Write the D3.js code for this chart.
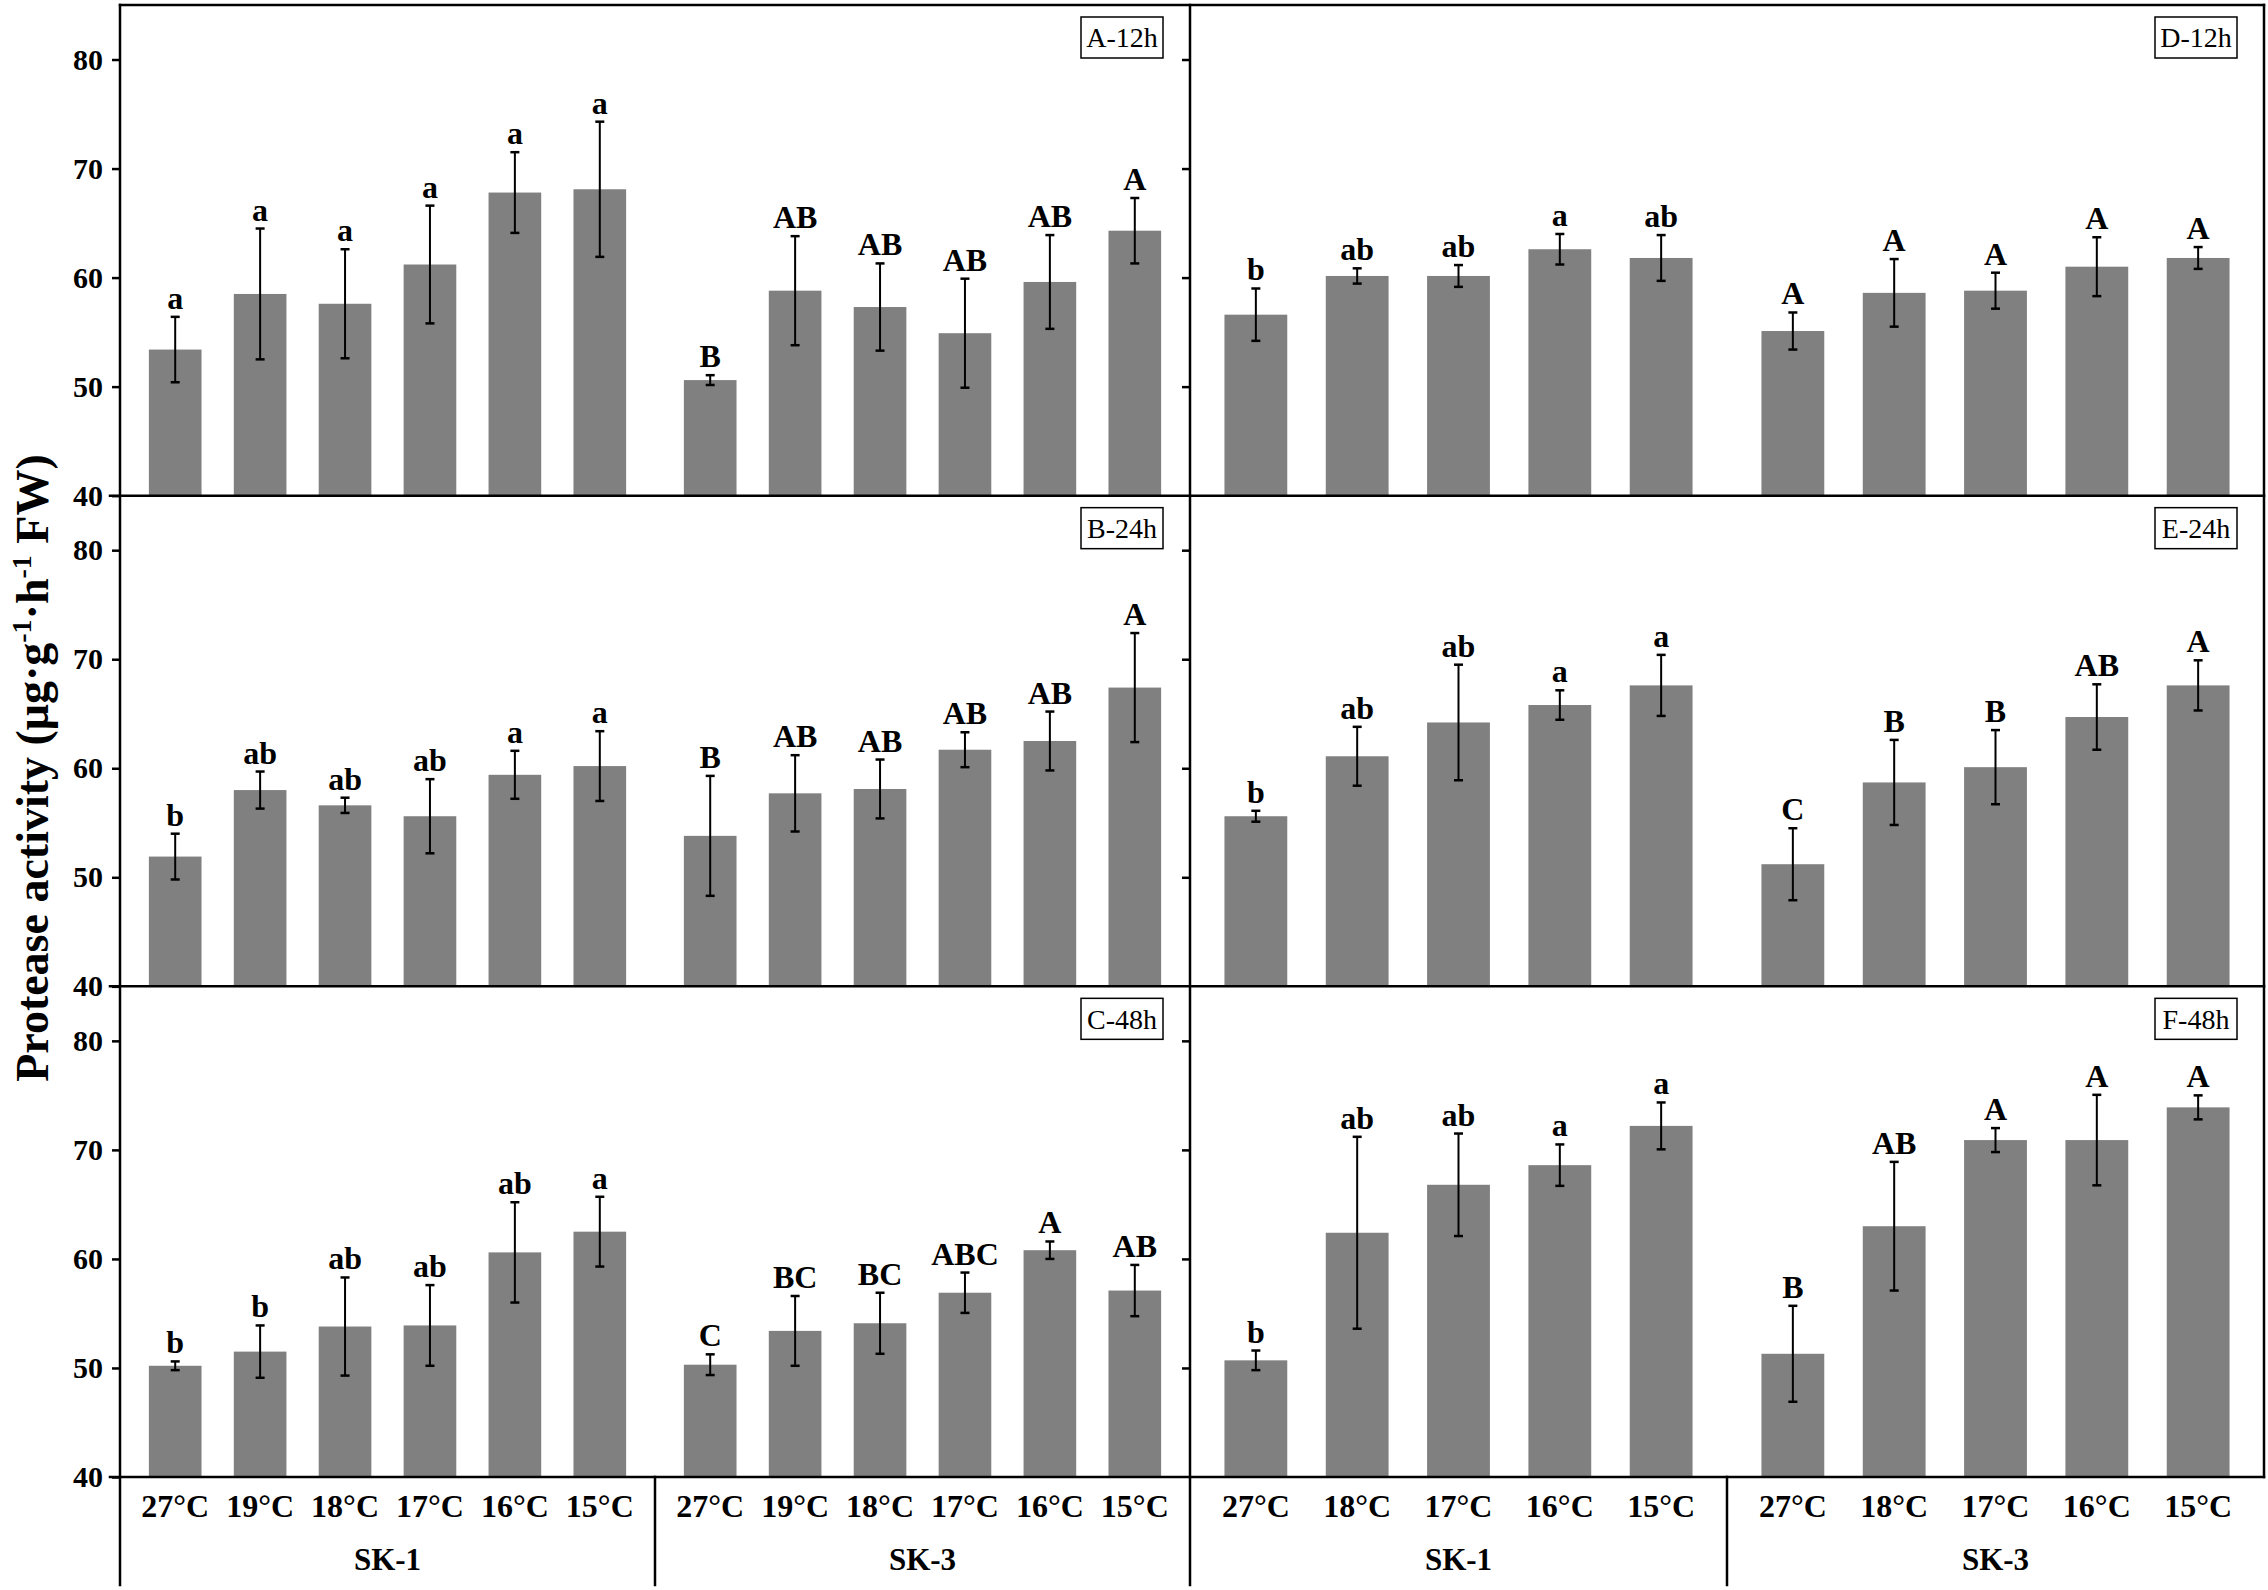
<!DOCTYPE html>
<html>
<head>
<meta charset="utf-8">
<script src="https://cdn.jsdelivr.net/npm/d3@7"></script>
<style>
  body { margin: 0; background: #fff; }
  text { font-family: "Liberation Serif", "Times New Roman", serif; }
</style>
</head>
<body>
<div id="chart"></div>
<script>
var W = 2268, H = 1590;

// categories
var cultivars = ["SK-1", "SK-3"];
var leftTemps = ["27°C", "19°C", "18°C", "17°C", "16°C", "15°C"];
var rightTemps = ["27°C", "18°C", "17°C", "16°C", "15°C"];
var panelNames = ["A-12h", "B-24h", "C-48h", "D-12h", "E-24h", "F-48h"];
var yTicks = [40, 50, 60, 70, 80];

// values per panel: [SK-1, SK-3]
var meanA = [[53.4, 58.5, 57.6, 61.2, 67.8, 68.1], [50.6, 58.8, 57.3, 54.9, 59.6, 64.3]];
var errA = [[3.0, 6.0, 5.0, 5.4, 3.7, 6.2], [0.45, 5.0, 4.0, 5.0, 4.3, 3.0]];
var letA = [["a", "a", "a", "a", "a", "a"], ["B", "AB", "AB", "AB", "AB", "A"]];

var meanB = [[51.9, 58.0, 56.6, 55.6, 59.4, 60.2], [53.8, 57.7, 58.1, 61.7, 62.5, 67.4]];
var errB = [[2.1, 1.7, 0.7, 3.4, 2.2, 3.2], [5.5, 3.5, 2.7, 1.6, 2.7, 5.0]];
var letB = [["b", "ab", "ab", "ab", "a", "a"], ["B", "AB", "AB", "AB", "AB", "A"]];

var meanC = [[50.2, 51.5, 53.8, 53.9, 60.6, 62.5], [50.3, 53.4, 54.1, 56.9, 60.8, 57.1]];
var errC = [[0.4, 2.4, 4.5, 3.7, 4.6, 3.2], [0.95, 3.2, 2.8, 1.85, 0.8, 2.35]];
var letC = [["b", "b", "ab", "ab", "ab", "a"], ["C", "BC", "BC", "ABC", "A", "AB"]];

var meanD = [[56.6, 60.15, 60.15, 62.6, 61.8], [55.1, 58.6, 58.8, 61.0, 61.8]];
var errD = [[2.4, 0.7, 1.0, 1.4, 2.1], [1.7, 3.1, 1.65, 2.7, 1.0]];
var letD = [["b", "ab", "ab", "a", "ab"], ["A", "A", "A", "A", "A"]];

var meanE = [[55.6, 61.1, 64.2, 65.8, 67.6], [51.2, 58.7, 60.1, 64.7, 67.6]];
var errE = [[0.5, 2.7, 5.3, 1.35, 2.8], [3.3, 3.9, 3.4, 3.0, 2.3]];
var letE = [["b", "ab", "ab", "a", "a"], ["C", "B", "B", "AB", "A"]];

var meanF = [[50.7, 62.4, 66.8, 68.6, 72.2], [51.3, 63.0, 70.9, 70.9, 73.9]];
var errF = [[0.9, 8.8, 4.7, 1.9, 2.15], [4.4, 5.9, 1.1, 4.15, 1.1]];
var letF = [["b", "ab", "ab", "a", "a"], ["B", "AB", "A", "A", "A"]];

var panels = [
    { name: panelNames[0], col: 0, row: 0, temps: leftTemps, mean: meanA, err: errA, let: letA },
    { name: panelNames[1], col: 0, row: 1, temps: leftTemps, mean: meanB, err: errB, let: letB },
    { name: panelNames[2], col: 0, row: 2, temps: leftTemps, mean: meanC, err: errC, let: letC },
    { name: panelNames[3], col: 1, row: 0, temps: rightTemps, mean: meanD, err: errD, let: letD },
    { name: panelNames[4], col: 1, row: 1, temps: rightTemps, mean: meanE, err: errE, let: letE },
    { name: panelNames[5], col: 1, row: 2, temps: rightTemps, mean: meanF, err: errF, let: letF }
];

var top0 = 5, plotBottom = 1477, baseBottom = 1585;
var colX = [120, 1190, 2264];
var rowY = d3.range(4).map(i => top0 + i * (plotBottom - top0) / 3);

var svg = d3.select("#chart")
    .append("svg")
    .attr("width", W)
    .attr("height", H)
    .style("background", "#fff");

var gBars = svg.append("g");
var gAxes = svg.append("g");
var gFrame = svg.append("g");

var groupScales = [];

panels.forEach(function(p) {
    var x0 = colX[p.col], x1 = colX[p.col + 1];
    var groupScale = d3.scaleBand().domain(cultivars).range([x0, x1]);
    var barScale = d3.scaleBand()
        .domain(p.temps)
        .range([0, groupScale.bandwidth()])
        .paddingInner(0.38)
        .paddingOuter(0.34);
    var y = d3.scaleLinear().domain([40, 85]).range([rowY[p.row + 1], rowY[p.row]]);
    groupScales[p.col] = { group: groupScale, bar: barScale };

    var rows = [];
    cultivars.forEach((c, ci) => {
        p.temps.forEach((t, ti) => {
            rows.push({ cultivar: c, temp: t, mean: p.mean[ci][ti], err: p.err[ci][ti], letter: p.let[ci][ti] });
        });
    });
    var cx = d => groupScale(d.cultivar) + barScale(d.temp) + barScale.bandwidth() / 2;

    var g = gBars.append("g").attr("class", "panel");

    g.selectAll(".bar")
        .data(rows)
        .join("rect")
        .attr("class", "bar")
        .attr("x", d => groupScale(d.cultivar) + barScale(d.temp))
        .attr("y", d => y(d.mean))
        .attr("width", barScale.bandwidth())
        .attr("height", d => y(40) - y(d.mean))
        .attr("fill", "#808080");

    g.selectAll(".err")
        .data(rows)
        .join("line")
        .attr("class", "err")
        .attr("x1", cx).attr("x2", cx)
        .attr("y1", d => y(d.mean - d.err))
        .attr("y2", d => y(d.mean + d.err))
        .attr("stroke", "#000")
        .attr("stroke-width", 2);

    [1, -1].forEach(function(s) {
        g.selectAll(".cap" + (s > 0 ? "t" : "b"))
            .data(rows)
            .join("line")
            .attr("x1", d => cx(d) - 4.5).attr("x2", d => cx(d) + 4.5)
            .attr("y1", d => y(d.mean + s * d.err))
            .attr("y2", d => y(d.mean + s * d.err))
            .attr("stroke", "#000")
            .attr("stroke-width", 2.5);
    });

    g.selectAll(".letter")
        .data(rows)
        .join("text")
        .attr("class", "letter")
        .attr("x", cx)
        .attr("y", d => y(d.mean + d.err) - 8)
        .attr("text-anchor", "middle")
        .style("font-size", "32px")
        .style("font-weight", "bold")
        .text(d => d.letter);

    // panel tag box
    var bw = 82, bh = 41;
    var bx = x1 - 27 - bw, by = rowY[p.row] + 12;
    g.append("rect")
        .attr("x", bx).attr("y", by)
        .attr("width", bw).attr("height", bh)
        .attr("fill", "#fff")
        .attr("stroke", "#000")
        .attr("stroke-width", 1.5);
    g.append("text")
        .attr("x", bx + bw / 2)
        .attr("y", by + bh / 2)
        .attr("dy", "0.35em")
        .attr("text-anchor", "middle")
        .style("font-size", "28px")
        .text(p.name);

    // y axis (left labels) and inner ticks at the middle divider
    if (p.col === 0) {
        var yAx = gAxes.append("g")
            .attr("transform", `translate(${colX[0]},0)`)
            .call(d3.axisLeft(y).tickValues(yTicks).tickSize(8).tickPadding(9));
        yAx.select(".domain").remove();
        yAx.selectAll("line").attr("stroke-width", 2.5);
        yAx.selectAll("text")
            .style("font-family", "'Liberation Serif', 'Times New Roman', serif")
            .style("font-size", "30px")
            .style("font-weight", "bold")
            .attr("fill", "#000");

        var yMid = gAxes.append("g")
            .attr("transform", `translate(${colX[1]},0)`)
            .call(d3.axisLeft(y).tickValues(yTicks.slice(1)).tickSize(8).tickFormat(""));
        yMid.select(".domain").remove();
        yMid.selectAll("line").attr("stroke-width", 2.5);
    }

    // x axis labels under the bottom row
    if (p.row === 2) {
        cultivars.forEach(function(c) {
            var xa = gAxes.append("g")
                .attr("transform", `translate(${groupScale(c)},${plotBottom})`)
                .call(d3.axisBottom(barScale).tickSize(0).tickPadding(17));
            xa.select(".domain").remove();
            xa.selectAll("text")
                .style("font-family", "'Liberation Serif', 'Times New Roman', serif")
                .style("font-size", "32px")
                .style("font-weight", "bold")
                .attr("fill", "#000");
        });
        var ga = gAxes.append("g")
            .attr("transform", `translate(0,${plotBottom})`)
            .call(d3.axisBottom(groupScale).tickSize(0).tickPadding(71));
        ga.select(".domain").remove();
        ga.selectAll("text")
            .style("font-family", "'Liberation Serif', 'Times New Roman', serif")
            .style("font-size", "31px")
            .style("font-weight", "bold")
            .attr("fill", "#000");
    }
});

// frame lines
function line(x1, y1, x2, y2) {
    gFrame.append("line")
        .attr("x1", x1).attr("y1", y1)
        .attr("x2", x2).attr("y2", y2)
        .attr("stroke", "#000")
        .attr("stroke-width", 2.5)
        .attr("stroke-linecap", "square");
}
line(colX[0], rowY[0], colX[2], rowY[0]);
rowY.slice(1).forEach(yy => line(colX[0] - 10, yy, colX[2], yy));
line(colX[0], rowY[0], colX[0], baseBottom);
line(colX[1], rowY[0], colX[1], baseBottom);
line(colX[2], rowY[0], colX[2], plotBottom);
groupScales.forEach(function(s) {
    var xd = s.group("SK-3");
    line(xd, plotBottom, xd, baseBottom);
});

// y axis title
var title = svg.append("text")
    .attr("transform", `translate(48,768) rotate(-90)`)
    .attr("text-anchor", "middle")
    .style("font-size", "46px")
    .style("font-weight", "bold");
title.append("tspan").text("Protease activity (μg·g");
title.append("tspan").attr("dy", -17).style("font-size", "28px").text("-1");
title.append("tspan").attr("dy", 17).text("·h");
title.append("tspan").attr("dy", -17).style("font-size", "28px").text("-1");
title.append("tspan").attr("dy", 17).text(" FW)");
</script>
</body>
</html>
